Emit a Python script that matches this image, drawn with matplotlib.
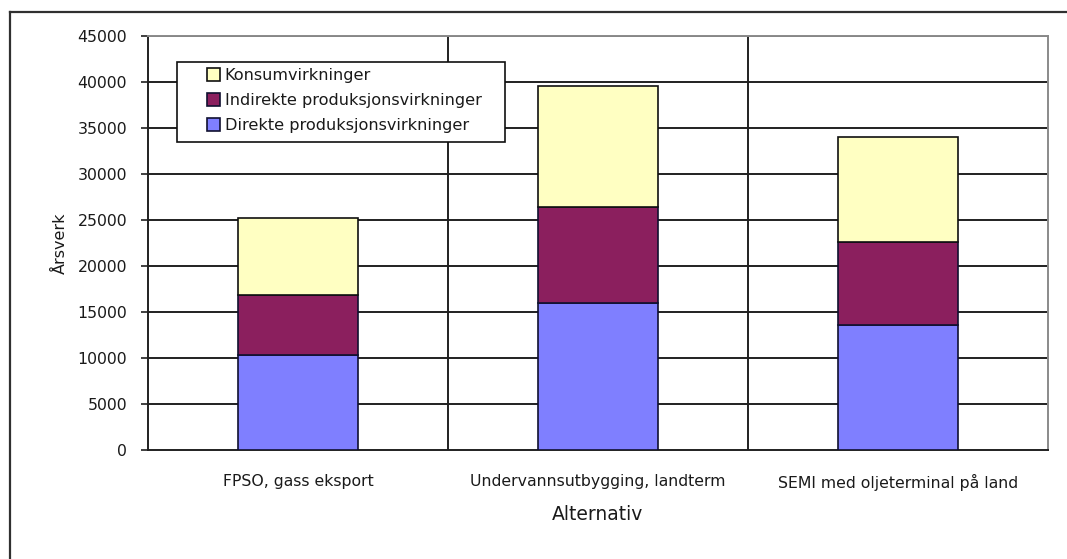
import matplotlib
matplotlib.use("Agg")
import matplotlib.pyplot as plt
from matplotlib.lines import Line2D
from matplotlib.patches import Rectangle
import numpy as np

categories = ["FPSO, gass eksport", "Undervannsutbygging, landterm", "SEMI med oljeterminal på land"]
direkte = [10350, 16000, 13600]
indirekte = [6500, 10400, 9000]
konsum = [8350, 13200, 11400]
yticks = [0, 5000, 10000, 15000, 20000, 25000, 30000, 35000, 40000, 45000]

plt.rcParams['font.family'] = ['DejaVu Sans']

W, H = 1067, 559
fig = plt.figure(figsize=(W / 100, H / 100), dpi=100)
ax = fig.add_axes([148 / W, (H - 450) / H, 900 / W, 414 / H])

x = np.arange(len(categories))
bw = 0.4
c_dir = "#7F7FFF"
c_ind = "#8B1F5E"
c_kon = "#FFFFC2"

b1 = ax.bar(x, direkte, bw, color=c_dir, edgecolor="#101030", linewidth=1.2, zorder=3,
            label="Direkte produksjonsvirkninger")
b2 = ax.bar(x, indirekte, bw, bottom=direkte, color=c_ind, edgecolor="#101030", linewidth=1.2,
            zorder=3, label="Indirekte produksjonsvirkninger")
bottom3 = [a + b for a, b in zip(direkte, indirekte)]
b3 = ax.bar(x, konsum, bw, bottom=bottom3, color=c_kon, edgecolor="#101010", linewidth=1.2,
            zorder=3, label="Konsumvirkninger")

tc = '#1a1a1a'
ax.set_xlim(-0.5, len(categories) - 0.5)
ax.set_ylim(0, 45000)
ax.set_yticks(yticks)
ax.set_yticklabels([str(v) for v in yticks], fontsize=11.3, color=tc)
ax.set_xticks(x)
ax.set_xticklabels(categories, fontsize=11.3, color=tc)
ax.tick_params(axis='x', length=0, pad=17)
ax.tick_params(axis='y', length=5, width=1.2, direction='out', pad=10, color='#202020')

for v in yticks[1:]:
    ax.axhline(v, color='#202020', linewidth=1.4, zorder=1)
for xv in [0.5, 1.5]:
    ax.axvline(xv, color='#202020', linewidth=1.4, zorder=1)

ax.spines['left'].set_color('#202020')
ax.spines['left'].set_linewidth(1.4)
ax.spines['bottom'].set_color('#202020')
ax.spines['bottom'].set_linewidth(1.4)
ax.spines['right'].set_color('#8a8a8a')
ax.spines['right'].set_linewidth(1.4)
ax.spines['top'].set_color('#8a8a8a')
ax.spines['top'].set_linewidth(1.4)

ax.set_xlabel("Alternativ", fontsize=13.5, labelpad=10, color=tc)
ax.set_ylabel("Årsverk", fontsize=11.5, labelpad=7, color=tc)

# legend box (figure px: x 177-505, y 62-142)
ax_x0, ax_w, ax_ybot, ax_h = 148, 900, 450, 414
rx0 = (177 - ax_x0) / ax_w
rx1 = (505 - ax_x0) / ax_w
ry0 = (ax_ybot - 142) / ax_h
ry1 = (ax_ybot - 62) / ax_h
box = Rectangle((rx0, ry0), rx1 - rx0, ry1 - ry0, transform=ax.transAxes,
                facecolor='white', edgecolor='#101010', linewidth=1.2, zorder=4)
ax.add_patch(box)

leg = ax.legend(handles=[b3, b2, b1], loc='upper left',
                bbox_to_anchor=((207 - ax_x0) / ax_w, (ax_ybot - 68) / ax_h),
                fontsize=11.6, frameon=False,
                handlelength=0.8, handleheight=0.8, handletextpad=0.3,
                labelspacing=0.62, borderpad=0, borderaxespad=0)
leg.set_zorder(5)
for t in leg.get_texts():
    t.set_color(tc)

# outer frame lines
fig.add_artist(Line2D([10 / W, 10 / W], [0, 1 - 12 / H], color='#303030', linewidth=1.6))
fig.add_artist(Line2D([10 / W, 1], [1 - 12 / H, 1 - 12 / H], color='#303030', linewidth=1.6))

fig.savefig("out.png", dpi=100, facecolor='white')
